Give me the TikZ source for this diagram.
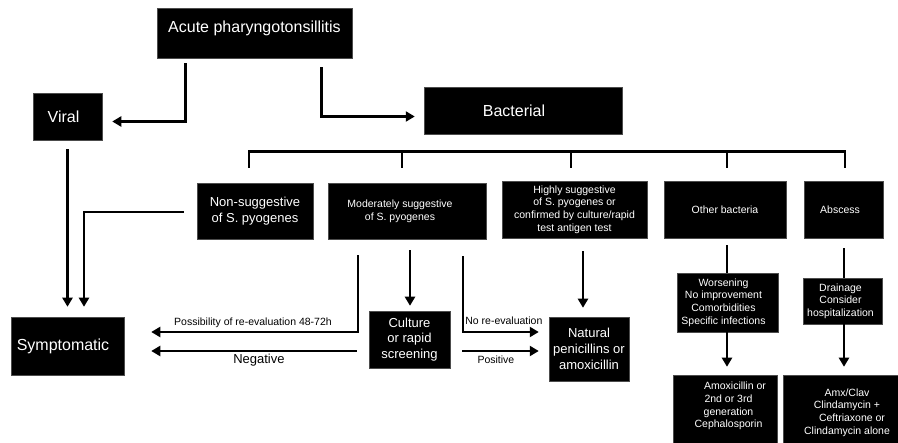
\documentclass[tikz,border=0pt]{standalone}
\usepackage{fontspec}
\setmainfont{Liberation Sans}
\usetikzlibrary{arrows.meta}
\tikzset{
  box/.style={fill=black, draw=black!70, line width=0.5pt, text=white, align=center, inner sep=0pt},
  big/.style={font=\fontsize{16}{19}\selectfont},
  mid/.style={font=\fontsize{13}{15.7}\selectfont},
  small/.style={font=\fontsize{10.5}{12.6}\selectfont},
  conn/.style={line width=2.6pt},
  arr/.style={conn, -{Triangle[length=9pt,width=10pt]}},
  lab/.style={font=\fontsize{10.5}{12.6}\selectfont, inner sep=0pt},
  labbig/.style={font=\fontsize{13}{15.7}\selectfont, inner sep=0pt},
}
\begin{document}
\begin{tikzpicture}[x=1pt,y=-1pt]
\useasboundingbox (0,0) rectangle (898,443);
\clip (0,0) rectangle (898,443);
\fill[white] (0,0) rectangle (898,443);

% boxes
\node[box,big,minimum width=195pt,minimum height=50pt,text depth=13.4pt] (acute) at (254.5,33) {Acute pharyngotonsillitis};
\node[box,big,minimum width=69pt,minimum height=47pt] (viral) at (67.5,116.5) {\hspace*{-8pt}Viral};
\node[box,big,minimum width=198pt,minimum height=47pt] (bact) at (523,110.5) {\hspace*{-18pt}Bacterial};

\node[box,mid,minimum width=116pt,minimum height=56pt] (nonsug) at (255,211) {Non-suggestive\\of S. pyogenes};
\node[box,small,minimum width=158pt,minimum height=56pt] (mod) at (407,211) {\hspace*{-14pt}Moderately suggestive\\\hspace*{-14pt}of S. pyogenes};
\node[box,small,minimum width=145pt,minimum height=57pt] (high) at (574.5,209.5) {Highly suggestive\\of S. pyogenes or\\confirmed by culture/rapid\\test antigen test};
\node[box,small,minimum width=122pt,minimum height=57pt] (other) at (725,209.5) {Other bacteria};
\node[box,small,minimum width=79pt,minimum height=57pt] (absc) at (843.5,209.5) {\hspace*{-7pt}Abscess};

\node[box,big,minimum width=113pt,minimum height=58pt] (symp) at (67.5,346) {\hspace*{-9pt}Symptomatic};
\node[box,mid,minimum width=81pt,minimum height=57pt] (cult) at (409.5,339.5) {Culture\\or rapid\\screening};
\node[box,mid,minimum width=80pt,minimum height=64pt] (nat) at (589,349) {Natural\\penicillins or\\amoxicillin};

\node[box,small,minimum width=101pt,minimum height=59pt] (wors) at (727.5,302.5) {\hspace*{-8pt}Worsening\\\hspace*{-8pt}No improvement\\\hspace*{-8pt}Comorbidities\\\hspace*{-8pt}Specific infections};
\node[box,small,minimum width=79pt,minimum height=46pt] (drain) at (842.5,301) {\hspace*{-4pt}Drainage\\\hspace*{-4pt}Consider\\\hspace*{-4pt}hospitalization};

\node[box,minimum width=104pt,minimum height=85pt] (amoxbox) at (725,417.5) {};
\node[box,minimum width=128pt,minimum height=85pt] (amxbox) at (847,417.5) {};
\node[small,text=white,align=center,inner sep=0pt] (amox) at (728.5,406) {\hspace*{13pt}Amoxicillin or\\2nd or 3rd\\generation\\Cephalosporin};
\node[small,text=white,align=center,inner sep=0pt] (amx) at (847,412.5) {Amx/Clav\\Clindamycin +\\\hspace*{10pt}Ceftriaxone or\\Clindamycin alone};

% top connectors
\draw[arr] ([shift={(28.5,5)}]acute.south west) |- ([shift={(10,5)}]viral.east);
\draw[arr] ([shift={(164.5,9)}]acute.south west) |- ([shift={(-9,6)}]bact.west);

% bracket
\draw[conn] ([shift={(-6,-15)}]nonsug.north) |- ([shift={(1.5,-29.5)}]absc.north) -- ([shift={(1.5,-13)}]absc.north);
\draw[conn] ([shift={(-5,-31)}]mod.north) -- ([shift={(-5,-15)}]mod.north);
\draw[conn] ([shift={(-3.5,-29.5)}]high.north) -- ([shift={(-3.5,-13)}]high.north);
\draw[conn] ([shift={(2,-29.5)}]other.north) -- ([shift={(2,-13)}]other.north);

% to symptomatic
\draw[arr] ([shift={(0,9)}]viral.south) -- ([shift={(0,-10)}]symp.north);
\draw[arr] ([shift={(-13,1)}]nonsug.west) -| ([shift={(16.5,-10)}]symp.north);

\draw[arr] ([shift={(-49,16)}]mod.south) |- node[lab,pos=.754,anchor=base,shift={(0,-6.5)}] (lposs) {Possibility of re-evaluation 48-72h} ([shift={(27,-14)}]symp.east);
\draw[arr] ([shift={(-12,11.5)}]cult.west) -- node[labbig,pos=.476,anchor=base,shift={(0,13)}] (lneg) {Negative} ([shift={(27,5)}]symp.east);

\draw[arr] ([shift={(3,11)}]mod.south) -- ([shift={(0.5,-5)}]cult.north);

\draw[arr] ([shift={(56,17)}]mod.south) |- node[lab,pos=.77,anchor=base,shift={(0,-7.5)}] (lnore) {No re-evaluation} ([shift={(-10,-17)}]nat.west);
\draw[arr] ([shift={(12,11.5)}]cult.east) -- node[lab,pos=.44,anchor=base,shift={(0,13)}] (lpos) {Positive} ([shift={(-10,2)}]nat.west);

\draw[arr] ([shift={(8.5,13)}]high.south) -- ([shift={(-6,-9)}]nat.north);

\draw[conn] ([shift={(2,7)}]other.south) -- ([shift={(-0.5,0)}]wors.north);
\draw[arr] ([shift={(-0.5,0)}]wors.south) -- ([shift={(2,-8)}]amoxbox.north);
\draw[conn] ([shift={(0.5,10)}]absc.south) -- ([shift={(1.5,0)}]drain.north);
\draw[arr] ([shift={(1.5,0)}]drain.south) -- ([shift={(-3,-8)}]amxbox.north);
\end{tikzpicture}
\end{document}
